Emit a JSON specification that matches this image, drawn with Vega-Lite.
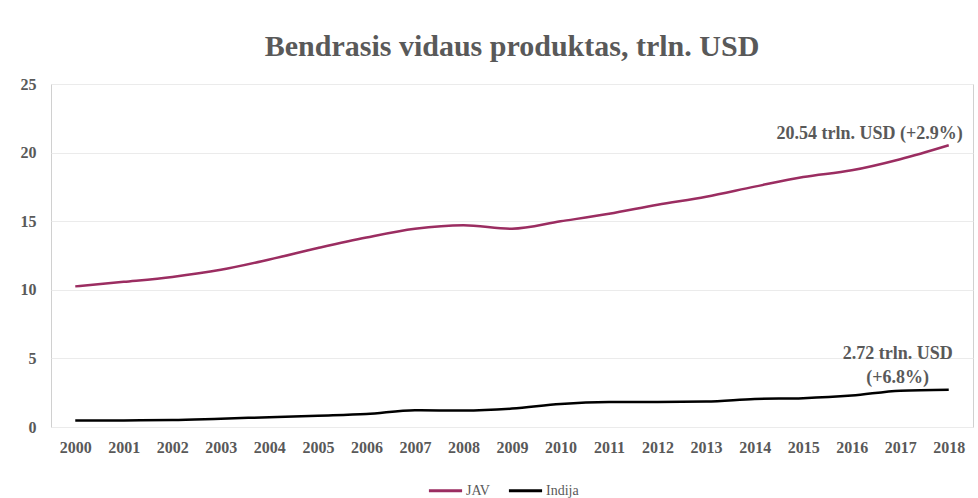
{
  "$schema": "https://vega.github.io/schema/vega-lite/v6.json",
  "width": 978,
  "height": 498,
  "autosize": {"type": "fit", "contains": "padding"},
  "padding": {"left": 20, "right": 5, "top": 32, "bottom": 43},
  "background": "white",
  "title": {
    "text": "Bendrasis vidaus produktas, trln. USD",
    "font": "Liberation Serif",
    "fontSize": 30,
    "fontWeight": "bold",
    "color": "#595959",
    "anchor": "middle",
    "offset": 14
  },
  "config": {
    "view": {"stroke": "#d0d0d0", "strokeWidth": 1},
    "axis": {
      "labelFont": "Liberation Serif",
      "labelFontSize": 16,
      "labelFontWeight": "bold",
      "labelColor": "#595959",
      "ticks": false,
      "domain": false,
      "title": null
    }
  },
  "datasets": {
    "gdp": [
      {"year": "2000", "series": "JAV", "value": 10.25},
      {"year": "2001", "series": "JAV", "value": 10.58},
      {"year": "2002", "series": "JAV", "value": 10.94},
      {"year": "2003", "series": "JAV", "value": 11.46},
      {"year": "2004", "series": "JAV", "value": 12.21},
      {"year": "2005", "series": "JAV", "value": 13.04},
      {"year": "2006", "series": "JAV", "value": 13.81},
      {"year": "2007", "series": "JAV", "value": 14.45},
      {"year": "2008", "series": "JAV", "value": 14.71},
      {"year": "2009", "series": "JAV", "value": 14.45},
      {"year": "2010", "series": "JAV", "value": 14.99},
      {"year": "2011", "series": "JAV", "value": 15.54},
      {"year": "2012", "series": "JAV", "value": 16.2},
      {"year": "2013", "series": "JAV", "value": 16.78},
      {"year": "2014", "series": "JAV", "value": 17.52},
      {"year": "2015", "series": "JAV", "value": 18.22},
      {"year": "2016", "series": "JAV", "value": 18.71},
      {"year": "2017", "series": "JAV", "value": 19.52},
      {"year": "2018", "series": "JAV", "value": 20.54},
      {"year": "2000", "series": "Indija", "value": 0.47},
      {"year": "2001", "series": "Indija", "value": 0.48},
      {"year": "2002", "series": "Indija", "value": 0.51},
      {"year": "2003", "series": "Indija", "value": 0.61},
      {"year": "2004", "series": "Indija", "value": 0.71},
      {"year": "2005", "series": "Indija", "value": 0.82},
      {"year": "2006", "series": "Indija", "value": 0.94},
      {"year": "2007", "series": "Indija", "value": 1.22},
      {"year": "2008", "series": "Indija", "value": 1.2},
      {"year": "2009", "series": "Indija", "value": 1.34},
      {"year": "2010", "series": "Indija", "value": 1.68},
      {"year": "2011", "series": "Indija", "value": 1.82},
      {"year": "2012", "series": "Indija", "value": 1.83},
      {"year": "2013", "series": "Indija", "value": 1.86},
      {"year": "2014", "series": "Indija", "value": 2.04},
      {"year": "2015", "series": "Indija", "value": 2.1},
      {"year": "2016", "series": "Indija", "value": 2.29},
      {"year": "2017", "series": "Indija", "value": 2.65},
      {"year": "2018", "series": "Indija", "value": 2.72}
    ],
    "labels": [
      {"year": "2018", "series": "JAV", "value": 20.54, "label": "20.54 trln. USD (+2.9%)"},
      {"year": "2018", "series": "Indija", "value": 2.72, "label": "2.72 trln. USD\n(+6.8%)"}
    ]
  },
  "layer": [
    {
      "data": {"name": "gdp"},
      "mark": {"type": "line", "strokeWidth": 2.5, "interpolate": "monotone"},
      "encoding": {
        "x": {
          "field": "year",
          "type": "ordinal",
          "scale": {"type": "point", "padding": 0.5},
          "axis": {"labelAngle": 0, "labelPadding": 12, "grid": false}
        },
        "y": {
          "field": "value",
          "type": "quantitative",
          "scale": {"domain": [0, 25], "nice": false},
          "axis": {"values": [0, 5, 10, 15, 20, 25], "labelPadding": 15, "grid": true, "gridColor": "#ebebeb", "gridWidth": 1}
        },
        "color": {
          "field": "series",
          "type": "nominal",
          "scale": {"domain": ["JAV", "Indija"], "range": ["#9b2d61", "#000000"]},
          "legend": {
            "orient": "none",
            "legendX": 376,
            "legendY": 388,
            "direction": "horizontal",
            "title": null,
            "symbolType": "stroke",
            "symbolSize": 1100,
            "symbolStrokeWidth": 3,
            "labelFont": "Liberation Serif",
            "labelFontSize": 14,
            "labelColor": "#595959",
            "columnPadding": 12,
            "labelOffset": 2
          }
        }
      }
    },
    {
      "data": {"name": "labels"},
      "transform": [{"filter": "datum.series === 'JAV'"}],
      "mark": {"type": "text", "font": "Liberation Serif", "fontSize": 18, "fontWeight": "bold", "color": "#595959", "align": "right", "baseline": "alphabetic", "dx": 14, "dy": -6},
      "encoding": {
        "x": {"field": "year", "type": "ordinal"},
        "y": {"field": "value", "type": "quantitative"},
        "text": {"field": "label"}
      }
    },
    {
      "data": {"name": "labels"},
      "transform": [{"filter": "datum.series === 'Indija'"}],
      "mark": {"type": "text", "font": "Liberation Serif", "fontSize": 18, "fontWeight": "bold", "color": "#595959", "align": "center", "baseline": "bottom", "lineBreak": "\n", "lineHeight": 24, "dx": -51, "dy": -27},
      "encoding": {
        "x": {"field": "year", "type": "ordinal"},
        "y": {"field": "value", "type": "quantitative"},
        "text": {"field": "label"}
      }
    }
  ]
}
